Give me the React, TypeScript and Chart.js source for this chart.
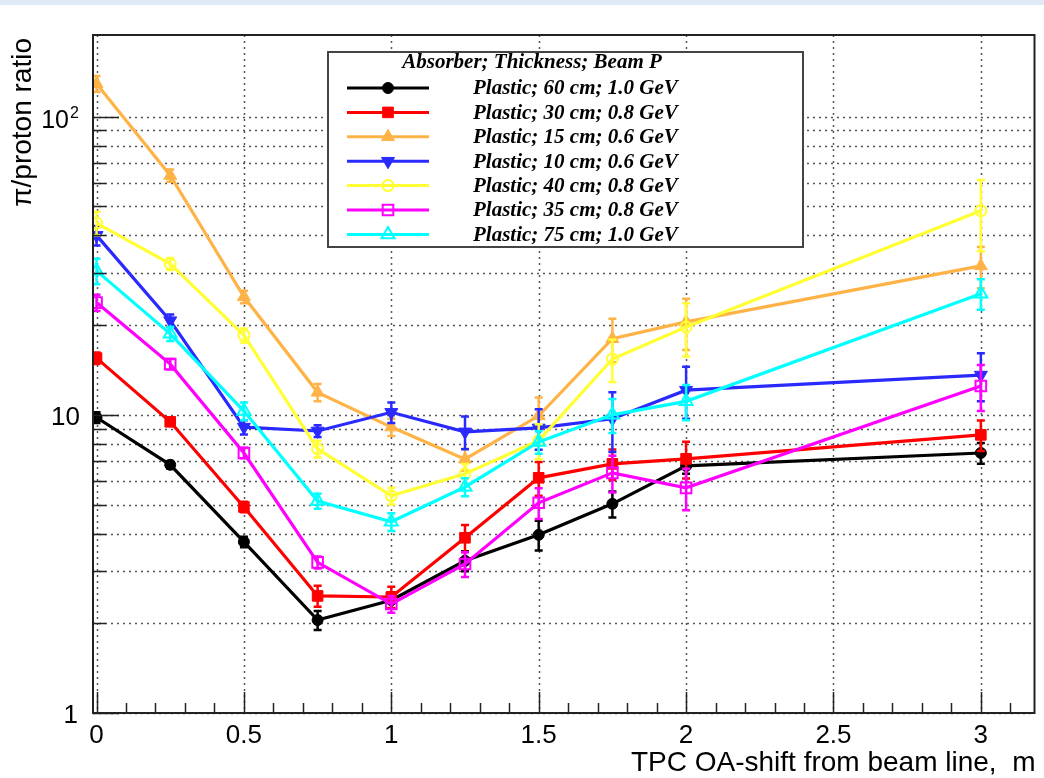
import React, { useEffect, useRef } from "react";
import { Chart, registerables } from "chart.js";

Chart.register(...registerables);

// ---------- data ----------
const xShift = [0, 0.25, 0.5, 0.75, 1, 1.25, 1.5, 1.75, 2, 3];

const legendTitle = "Absorber; Thickness; Beam P";
const seriesLabels = [
  "Plastic; 60 cm; 1.0 GeV",
  "Plastic; 30 cm; 0.8 GeV",
  "Plastic; 15 cm; 0.6 GeV",
  "Plastic; 10 cm; 0.6 GeV",
  "Plastic; 40 cm; 0.8 GeV",
  "Plastic; 35 cm; 0.8 GeV",
  "Plastic; 75 cm; 1.0 GeV",
];

const p60 = [9.8, 6.8, 3.75, 2.05, 2.39, 3.24, 3.96, 5.03, 6.74, 7.45];
const p60Err = [0.4, 0.2, 0.15, 0.15, 0.15, 0.25, 0.45, 0.5, 0.4, 0.6];
const p30 = [15.5, 9.48, 4.91, 2.47, 2.45, 3.87, 6.15, 6.85, 7.12, 8.57];
const p30Err = [0.7, 0.3, 0.2, 0.2, 0.2, 0.4, 0.8, 0.8, 1.0, 1.0];
const p15 = [129, 63.5, 24.9, 11.9, 9.1, 7.1, 9.93, 18, 20.5, 31.6];
const p15Err = [8, 3, 1.2, 0.8, 0.6, 0.6, 1.5, 3, 4, 5];
const p10 = [40, 20.7, 9.1, 8.83, 10.2, 8.77, 9.04, 9.7, 12.1, 13.6];
const p10Err = [3, 1, 0.5, 0.4, 0.8, 1.1, 1.4, 2.2, 2.4, 2.5];
const p40 = [44, 32.1, 18.5, 7.69, 5.35, 6.34, 8.2, 15.4, 19.7, 48.4];
const p40Err = [4, 1.5, 1, 0.5, 0.35, 0.5, 1.1, 2.5, 4, 13];
const p35 = [23.8, 14.8, 7.45, 3.2, 2.32, 3.16, 5.07, 6.39, 5.69, 12.5];
const p35Err = [1.5, 0.6, 0.3, 0.15, 0.15, 0.3, 0.6, 0.9, 0.9, 2.2];
const p75 = [30.4, 18.7, 10.3, 5.14, 4.38, 5.73, 8.11, 10, 11.1, 25.5];
const p75Err = [3, 1, 0.7, 0.3, 0.3, 0.4, 0.7, 1.3, 1.5, 3];

const seriesValues = [p60, p30, p15, p10, p40, p35, p75];
const seriesErrors = [p60Err, p30Err, p15Err, p10Err, p40Err, p35Err, p75Err];

const xTickValues = [0, 0.5, 1, 1.5, 2, 2.5, 3];
const xTickLabels = ["0", "0.5", "1", "1.5", "2", "2.5", "3"];
const yGridValues = [1, 2, 3, 4, 5, 6, 7, 8, 9, 10, 20, 30, 40, 50, 60, 70, 80, 90, 100];
const yLabelValues = [1, 10, 100];
const yLabelBase = ["1", "10", "10"];
const yLabelExp = ["", "", "2"];

const xTitle = "TPC OA-shift from beam line,  m";
const yTitle = "\u03c0/proton ratio";

// ---------- styles ----------
const seriesStyles = [
  { color: "#000000", shape: "circle", rot: 0, r: 5.5, open: false },
  { color: "#ff0000", shape: "rect", rot: 0, r: 7.5, open: false },
  { color: "#ffb347", shape: "triangle", rot: 0, r: 7.5, open: false },
  { color: "#2a2aff", shape: "triangle", rot: 180, r: 7.5, open: false },
  { color: "#ffff33", shape: "circle", rot: 0, r: 5.5, open: true },
  { color: "#ff00ff", shape: "rect", rot: 0, r: 7.5, open: true },
  { color: "#00ffff", shape: "triangle", rot: 0, r: 7.5, open: true },
];

const SANS = '"Liberation Sans", Arial, Helvetica, sans-serif';
const SERIF = '"Liberation Serif", "Times New Roman", serif';

function drawMarker(ctx: CanvasRenderingContext2D, st: any, x: number, y: number) {
  ctx.save();
  ctx.beginPath();
  const r = st.r;
  if (st.shape === "circle") {
    ctx.arc(x, y, r, 0, Math.PI * 2);
  } else if (st.shape === "rect") {
    const s = r * Math.SQRT1_2;
    ctx.rect(x - s, y - s, 2 * s, 2 * s);
  } else {
    let rad = (st.rot * Math.PI) / 180;
    ctx.moveTo(x + Math.sin(rad) * r, y - Math.cos(rad) * r);
    rad += (2 * Math.PI) / 3;
    ctx.lineTo(x + Math.sin(rad) * r, y - Math.cos(rad) * r);
    rad += (2 * Math.PI) / 3;
    ctx.lineTo(x + Math.sin(rad) * r, y - Math.cos(rad) * r);
    ctx.closePath();
  }
  ctx.strokeStyle = st.color;
  if (!st.open) {
    ctx.fillStyle = st.color;
    ctx.fill();
    ctx.lineWidth = 1;
  } else {
    ctx.lineWidth = 2;
  }
  ctx.stroke();
  ctx.restore();
}

const rootPlugin = {
  id: "rootStyle",
  beforeDatasetsDraw(chart: any) {
    const { ctx, chartArea: a, scales } = chart;
    ctx.save();
    ctx.strokeStyle = "#555";
    ctx.lineWidth = 1.5;
    ctx.setLineDash([2, 4]);
    for (const v of xTickValues) {
      const px = Math.round(scales.x.getPixelForValue(v)) + 0.5;
      ctx.beginPath();
      ctx.moveTo(px, a.top);
      ctx.lineTo(px, a.bottom);
      ctx.stroke();
    }
    for (const v of yGridValues) {
      const py = Math.round(scales.y.getPixelForValue(v)) + 0.5;
      ctx.beginPath();
      ctx.moveTo(a.left, py);
      ctx.lineTo(a.right, py);
      ctx.stroke();
    }
    ctx.restore();
  },
  beforeDatasetDraw(chart: any, args: any) {
    const { ctx, chartArea: a, scales } = chart;
    const ds = chart.data.datasets[args.index];
    const errs: number[] = ds.errors || [];
    ctx.save();
    ctx.beginPath();
    ctx.rect(a.left, a.top, a.right - a.left, a.bottom - a.top);
    ctx.clip();
    ctx.strokeStyle = ds.borderColor;
    ctx.lineWidth = 2.5;
    ds.data.forEach((pt: any, i: number) => {
      const e = errs[i];
      if (!e) return;
      const px = scales.x.getPixelForValue(pt.x);
      const yTop = scales.y.getPixelForValue(pt.y + e);
      const yBot = scales.y.getPixelForValue(Math.max(pt.y - e, 1e-3));
      ctx.beginPath();
      ctx.moveTo(px, yTop);
      ctx.lineTo(px, yBot);
      ctx.moveTo(px - 4, yTop);
      ctx.lineTo(px + 4, yTop);
      ctx.moveTo(px - 4, yBot);
      ctx.lineTo(px + 4, yBot);
      ctx.stroke();
    });
    ctx.restore();
  },
  afterDraw(chart: any) {
    const { ctx, chartArea: a, scales } = chart;
    const xs = scales.x;
    const ys = scales.y;
    ctx.save();

    // frame
    ctx.strokeStyle = "#222";
    ctx.lineWidth = 2;
    ctx.setLineDash([]);
    ctx.strokeRect(a.left, a.top, a.right - a.left, a.bottom - a.top);

    // inner tick marks, x axis
    ctx.lineWidth = 1.5;
    for (let k = 0; k <= 31; k++) {
      const v = k / 10;
      if (v > xs.max) break;
      const px = Math.round(xs.getPixelForValue(v)) + 0.5;
      const len = k % 5 === 0 ? 21 : 10;
      ctx.beginPath();
      ctx.moveTo(px, a.bottom);
      ctx.lineTo(px, a.bottom - len);
      ctx.stroke();
    }
    // inner tick marks, y axis
    for (const v of yGridValues) {
      const py = Math.round(ys.getPixelForValue(v)) + 0.5;
      const len = yLabelValues.includes(v) ? 26 : 13;
      ctx.beginPath();
      ctx.moveTo(a.left, py);
      ctx.lineTo(a.left + len, py);
      ctx.stroke();
    }

    // x tick labels
    ctx.fillStyle = "#000";
    ctx.font = `26px ${SANS}`;
    ctx.textAlign = "center";
    ctx.textBaseline = "alphabetic";
    xTickValues.forEach((v, i) => {
      ctx.fillText(xTickLabels[i], xs.getPixelForValue(v), a.bottom + 30);
    });

    // y tick labels
    ctx.textBaseline = "middle";
    yLabelValues.forEach((v, i) => {
      const py = ys.getPixelForValue(v);
      if (yLabelExp[i]) {
        ctx.font = `25px ${SANS}`;
        ctx.textAlign = "right";
        ctx.fillText(yLabelBase[i], a.left - 24, py + 4);
        ctx.font = `16px ${SANS}`;
        ctx.textAlign = "left";
        ctx.fillText(yLabelExp[i], a.left - 23, py - 3);
      } else {
        ctx.font = `26px ${SANS}`;
        ctx.textAlign = "right";
        const off = v === 1 ? 15 : 13;
        ctx.fillText(yLabelBase[i], a.left - off, py + 3);
      }
    });

    // axis titles
    ctx.font = `28px ${SANS}`;
    ctx.textAlign = "right";
    ctx.textBaseline = "alphabetic";
    ctx.fillText(xTitle, a.right + 1, a.bottom + 58);
    ctx.save();
    ctx.translate(31, a.top + 3);
    ctx.rotate(-Math.PI / 2);
    ctx.textAlign = "right";
    ctx.fillText(yTitle, 0, 0);
    ctx.restore();

    // legend
    const L = { left: 328, top: 52, right: 803, bottom: 247 };
    ctx.fillStyle = "#fff";
    ctx.fillRect(L.left, L.top, L.right - L.left, L.bottom - L.top);
    ctx.strokeStyle = "#444";
    ctx.lineWidth = 2;
    ctx.strokeRect(L.left, L.top, L.right - L.left, L.bottom - L.top);
    ctx.fillStyle = "#000";
    ctx.font = `italic bold 21px ${SERIF}`;
    ctx.textAlign = "center";
    ctx.textBaseline = "middle";
    ctx.fillText(legendTitle, 532, 63);
    ctx.textAlign = "left";
    seriesLabels.forEach((lab, i) => {
      const st = seriesStyles[i];
      const y = 88 + i * 24.4;
      ctx.strokeStyle = st.color;
      ctx.lineWidth = 3;
      ctx.beginPath();
      ctx.moveTo(347, y);
      ctx.lineTo(429, y);
      ctx.stroke();
      drawMarker(ctx, st, 388, y);
      ctx.fillStyle = "#000";
      ctx.font = `italic bold 21px ${SERIF}`;
      ctx.fillText(lab, 473, y + 1);
    });

    ctx.restore();
  },
};

export default function App() {
  const ref = useRef<HTMLCanvasElement>(null);

  useEffect(() => {
    document.body.style.margin = "0";
    const datasets = seriesLabels.map((label, i) => {
      const st = seriesStyles[i];
      return {
        label,
        data: xShift.map((x, j) => ({ x, y: seriesValues[i][j] })),
        errors: seriesErrors[i],
        borderColor: st.color,
        backgroundColor: st.color,
        borderWidth: 3.2,
        pointStyle: st.shape,
        pointRotation: st.rot,
        pointRadius: st.r,
        pointHoverRadius: st.r,
        pointBorderWidth: st.open ? 2 : 1,
        pointBackgroundColor: st.open ? "rgba(0,0,0,0)" : st.color,
        pointBorderColor: st.color,
        tension: 0,
        order: -i,
      };
    });

    const chart = new Chart(ref.current as HTMLCanvasElement, {
      type: "line",
      data: { datasets } as any,
      options: {
        animation: false,
        responsive: false,
        events: [],
        layout: { padding: { top: 35, right: 4, left: 0, bottom: 0 } },
        plugins: {
          legend: { display: false },
          tooltip: { enabled: false },
          title: { display: false },
        },
        scales: {
          x: {
            type: "linear",
            min: -0.012,
            max: 3.182,
            afterBuildTicks: (s: any) => {
              s.ticks = xTickValues.map((v) => ({ value: v }));
            },
            afterFit: (s: any) => {
              s.height = 65;
            },
            ticks: { display: false },
            grid: { display: false },
            border: { display: false },
          },
          y: {
            type: "logarithmic",
            min: 1,
            max: 188,
            afterBuildTicks: (s: any) => {
              s.ticks = yGridValues.map((v) => ({ value: v }));
            },
            afterFit: (s: any) => {
              s.width = 93;
            },
            ticks: { display: false },
            grid: { display: false },
            border: { display: false },
          },
        },
      } as any,
      plugins: [rootPlugin as any],
    });
    return () => chart.destroy();
  }, []);

  return (
    <div style={{ position: "relative", width: 1044, height: 778, background: "#fff" }}>
      <canvas ref={ref} width={1044} height={778} style={{ display: "block" }} />
      <div
        style={{
          position: "absolute",
          left: 0,
          top: 0,
          width: 1044,
          height: 5,
          background: "#dfeaf6",
        }}
      />
    </div>
  );
}
